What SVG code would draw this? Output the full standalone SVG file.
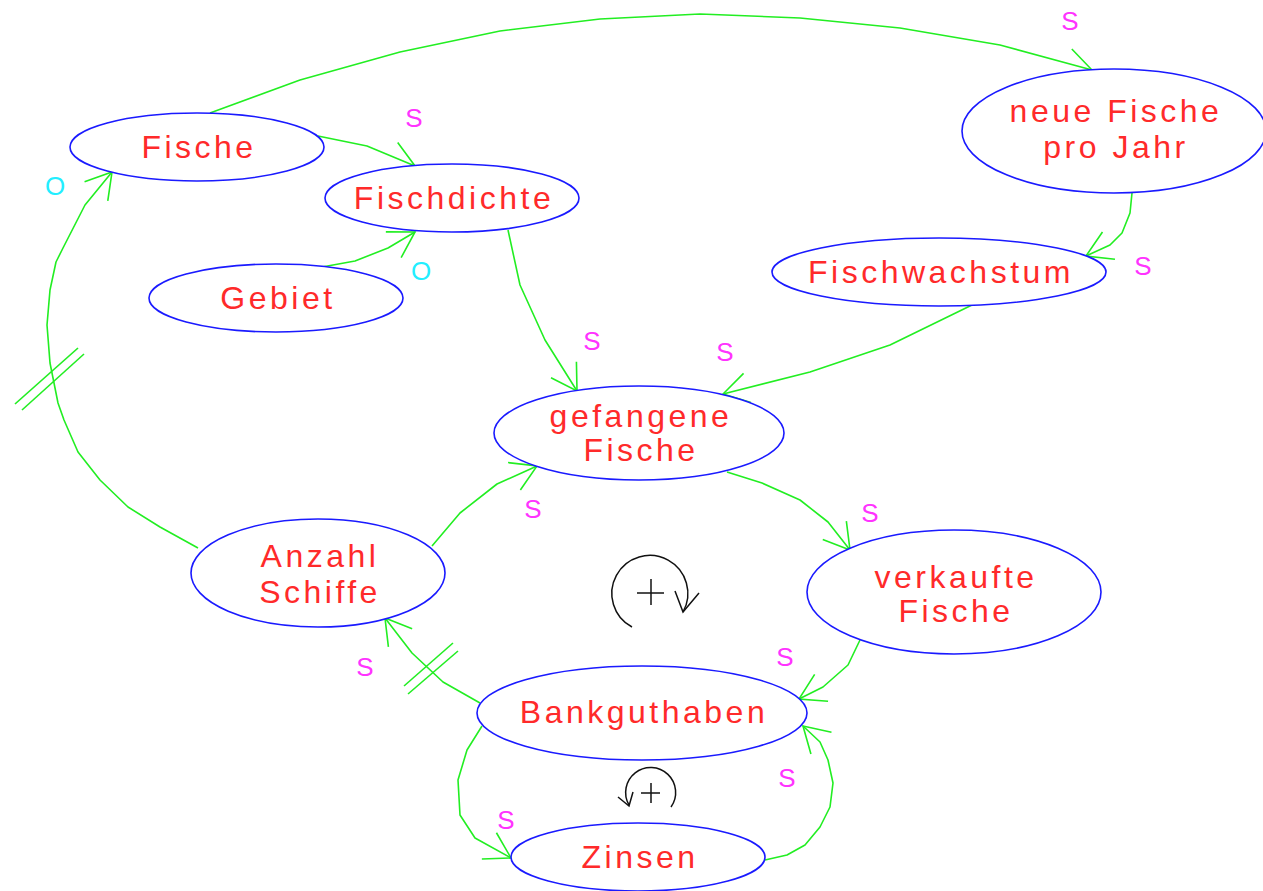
<svg xmlns="http://www.w3.org/2000/svg" width="1263" height="891" viewBox="0 0 1263 891">
  <style>
    .node ellipse { fill: #ffffff; stroke: #1a1aff; stroke-width: 1.6; }
    .node text { fill: #ff2a2a; font-family: "Liberation Sans", Arial, sans-serif; font-size: 32px; letter-spacing: 3.5px; text-anchor: middle; }
    .conn { fill: none; stroke: #22ee22; stroke-width: 1.6; stroke-linejoin: round; }
    .delay { stroke: #22ee22; stroke-width: 1.6; }
    .pol { fill: #ff33ff; font-family: "Liberation Sans", Arial, sans-serif; font-size: 26px; text-anchor: middle; }
    .pol0 { fill: #22eeff; font-family: "Liberation Sans", Arial, sans-serif; font-size: 26px; text-anchor: middle; }
    .loop { fill: none; stroke: #111111; stroke-width: 1.5; }
  </style>
  <defs>
    <marker id="arrow" markerUnits="userSpaceOnUse" orient="auto" refX="0" refY="0" markerWidth="40" markerHeight="40" viewBox="-30 -20 40 40" overflow="visible">
      <path d="M -25 -15 L 0 0 L -25 15" fill="none" stroke="#22ee22" stroke-width="1.6"/>
    </marker>
  </defs>

  <rect width="1263" height="891" fill="#ffffff"/>

  <!-- connectors -->
  <g id="connectors">
    <polyline class="conn" marker-end="url(#arrow)" points="210,113 300,80 400,52 500,31 600,19 700,14 800,18 900,28 1000,45 1092,70"/>
    <polyline class="conn" marker-end="url(#arrow)" points="318,136 367,146 415,166"/>
    <polyline class="conn" marker-end="url(#arrow)" points="322,267 355,261 388,248 415,232"/>
    <polyline class="conn" marker-end="url(#arrow)" points="508,230 520,285 545,340 577,391"/>
    <polyline class="conn" marker-end="url(#arrow)" points="1132,193 1130,213 1122,233 1110,245 1086,256"/>
    <polyline class="conn" marker-end="url(#arrow)" points="972,305 890,345 810,372 723,394"/>
    <polyline class="conn" marker-end="url(#arrow)" points="727,472 762,483 800,500 828,522 850,550"/>
    <polyline class="conn" marker-end="url(#arrow)" points="432,546 460,513 497,484 537,466"/>
    <polyline class="conn" marker-end="url(#arrow)" points="198,548 160,527 128,507 100,480 78,452 64,420 58,403 50,363 47,325 50,290 56,262 63,248 85,205 112,172"/>
    <line class="delay" x1="15" y1="404" x2="78" y2="348"/>
    <line class="delay" x1="22" y1="410" x2="84" y2="354"/>
    <polyline class="conn" marker-end="url(#arrow)" points="480,703 443,682 412,653 385,618"/>
    <line class="delay" x1="404" y1="686" x2="453" y2="643"/>
    <line class="delay" x1="408" y1="694" x2="458" y2="651"/>
    <polyline class="conn" marker-end="url(#arrow)" points="860,640 848,665 823,687 799,699"/>
    <polyline class="conn" marker-end="url(#arrow)" points="765,860 787,855 805,845 820,827 830,807 833,783 828,760 820,742 803,726"/>
    <polyline class="conn" marker-end="url(#arrow)" points="482,726 467,750 458,780 460,815 475,838 511,858"/>
  </g>

  <!-- nodes -->
  <g id="fische" class="node">
    <ellipse cx="197" cy="147" rx="127" ry="34"/>
    <text x="199" y="158">Fische</text>
  </g>
  <g id="fischdichte" class="node">
    <ellipse cx="452" cy="198" rx="127" ry="34"/>
    <text x="454" y="209">Fischdichte</text>
  </g>
  <g id="gebiet" class="node">
    <ellipse cx="276" cy="298" rx="127" ry="34"/>
    <text x="278" y="309">Gebiet</text>
  </g>
  <g id="neue-fische" class="node">
    <ellipse cx="1114" cy="131" rx="152" ry="62"/>
    <text x="1116" y="122">neue Fische</text>
    <text x="1116" y="158">pro Jahr</text>
  </g>
  <g id="fischwachstum" class="node">
    <ellipse cx="939" cy="272" rx="167" ry="34"/>
    <text x="941" y="283">Fischwachstum</text>
  </g>
  <g id="gefangene-fische" class="node">
    <ellipse cx="639" cy="433" rx="145" ry="47"/>
    <text x="641" y="427">gefangene</text>
    <text x="641" y="461">Fische</text>
  </g>
  <g id="anzahl-schiffe" class="node">
    <ellipse cx="318" cy="573" rx="127" ry="54"/>
    <text x="320" y="567">Anzahl</text>
    <text x="320" y="603">Schiffe</text>
  </g>
  <g id="verkaufte-fische" class="node">
    <ellipse cx="954" cy="592" rx="147" ry="62"/>
    <text x="956" y="588">verkaufte</text>
    <text x="956" y="622">Fische</text>
  </g>
  <g id="bankguthaben" class="node">
    <ellipse cx="642" cy="713" rx="165" ry="47"/>
    <text x="644" y="723">Bankguthaben</text>
  </g>
  <g id="zinsen" class="node">
    <ellipse cx="638" cy="857" rx="127" ry="34"/>
    <text x="640" y="868">Zinsen</text>
  </g>

  <!-- link polarities -->
  <g id="polarities">
    <text class="pol" x="1070" y="30">S</text>
    <text class="pol" x="414" y="127">S</text>
    <text class="pol" x="1143" y="275">S</text>
    <text class="pol" x="592" y="350">S</text>
    <text class="pol" x="725" y="361">S</text>
    <text class="pol" x="870" y="522">S</text>
    <text class="pol" x="533" y="518">S</text>
    <text class="pol" x="365" y="676">S</text>
    <text class="pol" x="785" y="666">S</text>
    <text class="pol" x="787" y="787">S</text>
    <text class="pol" x="506" y="829">S</text>
    <text class="pol0" x="55" y="195">O</text>
    <text class="pol0" x="421" y="280">O</text>
  </g>

  <!-- loop markers -->
  <g id="loop-reinforcing-main">
    <path class="loop" d="M632,627 A38,38 0 1 1 683,612"/>
    <polyline class="loop" points="675,591 683,612 699,593"/>
    <line class="loop" x1="637" y1="593" x2="664" y2="593"/>
    <line class="loop" x1="651" y1="579" x2="651" y2="605"/>
  </g>
  <g id="loop-reinforcing-interest">
    <path class="loop" d="M671,807 A25,25 0 1 0 629,805"/>
    <polyline class="loop" points="618,797 629,806 633,792"/>
    <line class="loop" x1="641" y1="793" x2="660" y2="793"/>
    <line class="loop" x1="651" y1="783" x2="651" y2="803"/>
  </g>
</svg>
